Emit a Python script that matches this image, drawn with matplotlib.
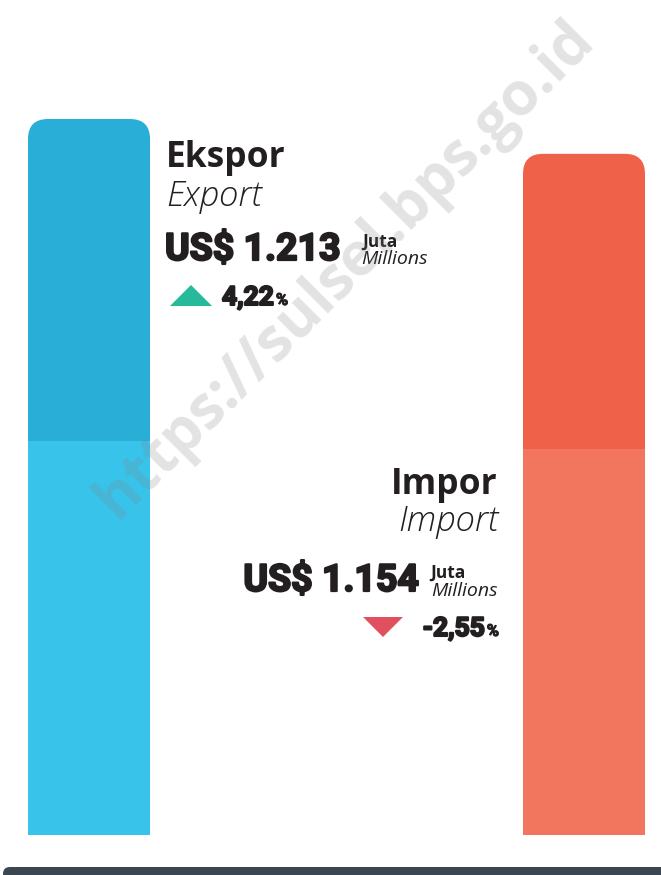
import numpy as np
import matplotlib
matplotlib.use('Agg')
import matplotlib.pyplot as plt
import matplotlib.patheffects as pe
from matplotlib.patches import FancyBboxPatch, Rectangle, Polygon
from matplotlib.transforms import Affine2D

# Data (USD million)
categories = ['Ekspor', 'Impor']
categories_en = ['Export', 'Import']
values = [1213, 1154]
base_segment = [667, 654]          # lighter lower part of each bar
changes = [4.22, -2.55]            # % change
value_labels = ['US$ 1.213', 'US$ 1.154']
change_labels = ['4,22', '-2,55']

W, H = 661, 875
fig = plt.figure(figsize=(W / 100, H / 100), dpi=100)
fig.patch.set_facecolor('white')

# pixel transform (y down) for texts and decorations
px = Affine2D().scale(1 / W, -1 / H).translate(0, 1) + fig.transFigure

# axes spanning the whole figure; y in millions, baseline 40 px from bottom
ax = fig.add_axes([0, 0, 1, 1])
ax.set_xlim(0, W)
units_per_px = 1213 / 716
ax.set_ylim(-40 * units_per_px, (H - 40) * units_per_px)
ax.axis('off')

bar_left = [28, 523]
bar_w = 122
dark_cols = ['#29AED8', '#F0614A']
light_cols = ['#38C4EA', '#F2755E']
radius = 20

for i in range(2):
    top = values[i]
    split = base_segment[i]
    r_y = radius * units_per_px
    dark = FancyBboxPatch((bar_left[i], split - r_y), bar_w, top - split + r_y,
                          boxstyle=f'round,pad=0,rounding_size={radius}',
                          mutation_aspect=units_per_px,
                          fc=dark_cols[i], ec='none', zorder=2)
    ax.add_patch(dark)
    ax.add_patch(Rectangle((bar_left[i], 0), bar_w, split, fc=light_cols[i], ec='none', zorder=3))

# bottom dark strip
fig.patches.append(FancyBboxPatch((3, 867), 700, 30, boxstyle='round,pad=0,rounding_size=7',
                                  transform=px, fc='#3B4651', ec='none', zorder=5))

FONT = 'Open Sans'
HEAVY = 'Roboto'
dark_txt = '#231F20'

def t(x, y, s, size, weight='normal', style='normal', ha='left', family=FONT, stroke=0):
    txt = fig.text(x, y, s, transform=px, fontsize=size, fontweight=weight, fontstyle=style,
                   ha=ha, va='baseline', family=family, color=dark_txt, zorder=10)
    if stroke:
        # thicken bold glyphs to mimic a black weight
        txt.set_path_effects([pe.withStroke(linewidth=stroke, foreground=dark_txt)])
    return txt

renderer = fig.canvas.get_renderer()

def width_px(txt):
    return txt.get_window_extent(renderer).width

# Export block
t(166, 167, categories[0], 25.5, weight='bold')
t(166, 206, categories_en[0], 25, weight=300, style='italic')
t(165, 260, value_labels[0], 27, weight='bold', family=HEAVY, stroke=1.6)
t(362, 247, 'Juta', 12.5, weight='bold')
t(361, 264, 'Millions', 14, style='italic')
num = t(222, 305, change_labels[0], 19, weight='bold', family=HEAVY, stroke=1.5)
t(222 + width_px(num) + 2, 305, '%', 12, weight='bold', family=HEAVY, stroke=0.7)

# Import block
t(498, 494, categories[1], 25.5, weight='bold', ha='right')
t(498, 531, categories_en[1], 25, weight=300, style='italic', ha='right')
t(419, 591, value_labels[1], 27, weight='bold', family=HEAVY, ha='right', stroke=1.6)
t(430, 578, 'Juta', 12.5, weight='bold')
t(498, 596, 'Millions', 14, style='italic', ha='right')
pct = t(499, 636, '%', 12, weight='bold', family=HEAVY, ha='right', stroke=0.7)
t(499 - width_px(pct) - 2, 636, change_labels[1], 19, weight='bold', family=HEAVY, ha='right', stroke=1.5)

# change indicators
tri = [(191, 295), (383, 627)]
for (cx, cy), ch in zip(tri, changes):
    if ch > 0:
        pts = [(cx - 21, cy + 11), (cx + 21, cy + 11), (cx, cy - 10)]
        col = '#26B99A'
    else:
        pts = [(cx - 20, cy - 10), (cx + 20, cy - 10), (cx, cy + 10)]
        col = '#E0505F'
    fig.patches.append(Polygon(pts, closed=True, transform=px, fc=col, ec='none', zorder=9))

# watermark
fig.text(345, 270, 'https://sulsel.bps.go.id', transform=px, fontsize=43, fontweight='bold',
         family=FONT, color='#808080', alpha=0.22, rotation=45, ha='center', va='center',
         rotation_mode='anchor', zorder=20)

fig.savefig('out.png', dpi=100, facecolor='white')
